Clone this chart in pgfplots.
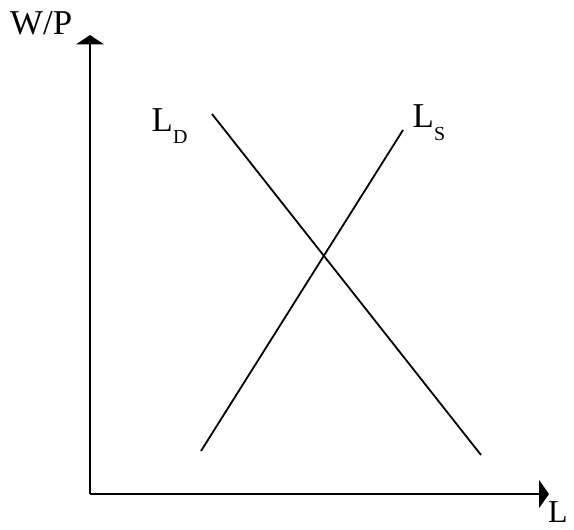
\documentclass[border=0pt]{standalone}
\usepackage{pgfplots}
\pgfplotsset{compat=1.18}
\usepackage{fontspec}
\setmainfont{Liberation Serif}
\usetikzlibrary{arrows.meta}
\begin{document}
\begin{tikzpicture}
\begin{axis}[
  at={(0,0)}, anchor=south west,
  scale only axis, width=574bp, height=530bp,
  xmin=0, xmax=574, ymin=0, ymax=530,
  hide axis, clip=false,
]
% axes
\addplot[black, line width=2bp, -{Triangle[width=28bp,length=9.5bp]}] coordinates {(90,36) (90,495)};
\addplot[black, line width=2bp, -{Triangle[width=28bp,length=10bp]}] coordinates {(90,36) (549,36)};
% demand and supply
\addplot[black, line width=1.8bp] coordinates {(212,416) (481,75)};
\addplot[black, line width=1.8bp] coordinates {(201,79) (403,400)};
% labels
\node[anchor=base west, inner sep=0pt, font=\fontsize{35}{40}\selectfont] at (axis cs:10,495) {W/P};
\node[anchor=base west, inner sep=0pt, font=\fontsize{35}{40}\selectfont] at (axis cs:151.5,398) {L\raisebox{-11.5bp}{\fontsize{20}{20}\selectfont D}};
\node[anchor=base west, inner sep=0pt, font=\fontsize{35}{40}\selectfont] at (axis cs:412.5,402) {L\raisebox{-13bp}{\fontsize{20}{20}\selectfont S}};
\node[anchor=base west, inner sep=0pt, font=\fontsize{32}{40}\selectfont] at (axis cs:548,8) {L};
\end{axis}
\pgfresetboundingbox
\path (0,0) rectangle (574bp,530bp);
\end{tikzpicture}
\end{document}
